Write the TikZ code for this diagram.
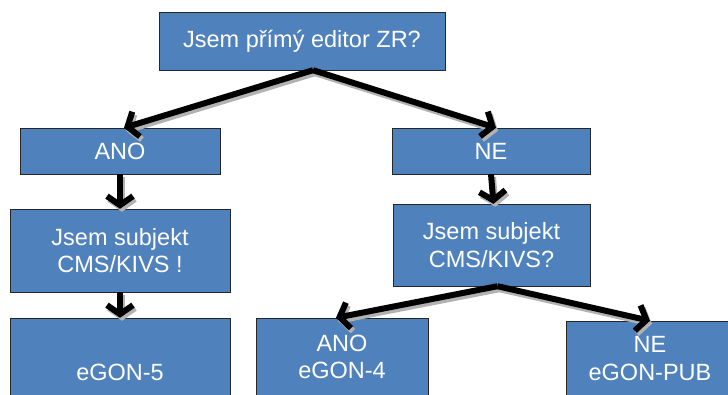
\documentclass[tikz,border=0pt]{standalone}
\usepackage{fontspec}
\setmainfont{Liberation Sans}
\usetikzlibrary{arrows.meta,calc}
\definecolor{boxblue}{HTML}{4F81BD}
\tikzset{
	box/.style={draw=black!85, fill=boxblue, text=white, align=center, inner sep=0pt,
		font=\fontsize{23.5}{27.5}\selectfont},
	arr/.style={draw=black, line width=6pt, -{Straight Barb[length=9pt,width=26pt]}},
	shadowarr/.style={arr, draw=black!30}
}
\newcommand{\flowarrows}[1]{
	\draw[#1] ([xshift=11pt]editor.south) -- ([xshift=4pt]ano.north);
	\draw[#1] ([xshift=11pt]editor.south) -- ([xshift=5pt]ne.north);
	\draw[#1] (ano.south) -- (subjleft.north);
	\draw[#1] (subjleft.south) -- (egon5.north);
	\draw[#1] (ne.south) -- ([xshift=2pt]subjright.north);
	\draw[#1] ([xshift=6pt]subjright.south) -- ([xshift=-6pt]egon4.north);
	\draw[#1] ([xshift=6pt]subjright.south) -- (egonpub.north);
}
\begin{document}
\begin{tikzpicture}[x=1pt, y=-1pt]
	\useasboundingbox (0,0) rectangle (728,394);
	\node[box, minimum width=286pt, minimum height=58pt] (editor) at (302,41) {Jsem přímý editor ZR?};
	\node[box, minimum width=200pt, minimum height=46pt] (ano) at (120,151) {ANO};
	\node[box, minimum width=198pt, minimum height=46pt] (ne) at (491,151) {NE};
	\node[box, minimum width=220pt, minimum height=83pt] (subjleft) at (120,250.5) {Jsem subjekt\\CMS/KIVS !};
	\node[box, minimum width=197pt, minimum height=82pt] (subjright) at (491.5,245) {Jsem subjekt\\CMS/KIVS?};
	\node[box, minimum width=220pt, minimum height=78pt] (egon5) at (120,357) {\strut\\eGON-5};
	\node[box, minimum width=172pt, minimum height=78pt] (egon4) at (342,357) {ANO\\eGON-4};
	\node[box, minimum width=168pt, minimum height=75pt] (egonpub) at (650,358.5) {NE\\eGON-PUB};
	% shadows first
	\begin{scope}[transform canvas={shift={(2pt,-3pt)}}]
		\flowarrows{shadowarr}
	\end{scope}
	\flowarrows{arr}
\end{tikzpicture}
\end{document}
